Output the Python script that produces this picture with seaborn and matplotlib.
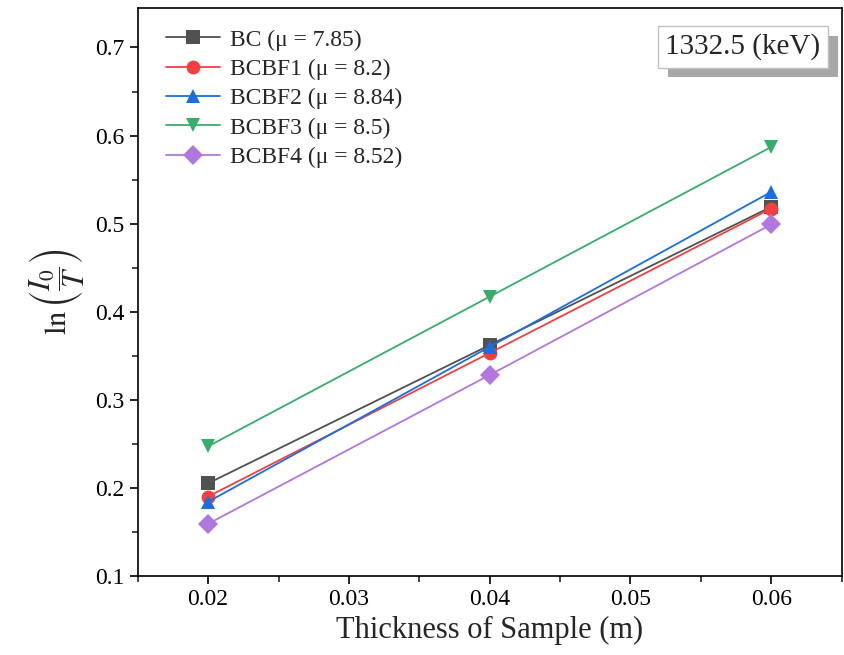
import numpy as np
import pandas as pd
import seaborn as sns
import matplotlib.pyplot as plt
import matplotlib.patheffects as pe
from matplotlib.ticker import MultipleLocator

# thickness of sample (m)
thickness = [0.02, 0.04, 0.06]

# ln(I0/I) values
bc = [0.205, 0.362, 0.519]
bcbf1 = [0.190, 0.353, 0.517]
bcbf2 = [0.184, 0.360, 0.536]
bcbf3 = [0.247, 0.417, 0.587]
bcbf4 = [0.159, 0.328, 0.499]

labels = ["BC (μ = 7.85)", "BCBF1 (μ = 8.2)", "BCBF2 (μ = 8.84)",
          "BCBF3 (μ = 8.5)", "BCBF4 (μ = 8.52)"]
colors = ["#515151", "#F14040", "#1A6FDF", "#37AD6B", "#B177DE"]
markers = ["s", "o", "^", "v", "D"]

df = pd.DataFrame({
    "thickness": thickness * 5,
    "value": bc + bcbf1 + bcbf2 + bcbf3 + bcbf4,
    "sample": np.repeat(labels, len(thickness)),
})

sns.set_style("ticks")
plt.rcParams["font.family"] = ["Liberation Serif", "DejaVu Serif"]
plt.rcParams["mathtext.fontset"] = "stix"

fig = plt.figure(figsize=(8.45, 6.55), dpi=100)
ax = fig.add_axes([0.163, 0.121, 0.833, 0.867])

sns.lineplot(data=df, x="thickness", y="value", hue="sample", style="sample",
             palette=dict(zip(labels, colors)), markers=dict(zip(labels, markers)),
             dashes=False, markersize=10, linewidth=1.3, markeredgewidth=0,
             ax=ax)

ax.set_xlim(0.015, 0.065)
ax.set_ylim(0.1, 0.745)
ax.xaxis.set_major_locator(MultipleLocator(0.01))
ax.xaxis.set_minor_locator(MultipleLocator(0.005))
ax.yaxis.set_major_locator(MultipleLocator(0.1))
ax.yaxis.set_minor_locator(MultipleLocator(0.05))
ax.tick_params(which="major", direction="out", length=6, width=1.2, labelsize=17,
               colors="black")
ax.tick_params(which="minor", direction="out", length=4, width=1.2)
for s in ax.spines.values():
    s.set_linewidth(1.2)
    s.set_color("black")

ax.set_xlabel("Thickness of Sample (m)", fontsize=22, labelpad=4)
ax.set_ylabel(r"$\ln\left(\dfrac{I_0}{T}\right)$", fontsize=22, labelpad=6)

leg = ax.legend(loc="upper left", frameon=False, fontsize=17, handlelength=2.3,
                borderaxespad=0.5, borderpad=0.4, labelspacing=0.33,
                handletextpad=0.4, bbox_to_anchor=(0.01, 1.0))

t = ax.text(0.97, 0.955, "1332.5 (keV)", transform=ax.transAxes, ha="right",
            va="top", fontsize=21,
            bbox=dict(boxstyle="square,pad=0.25", fc="white", ec="#c0c0c0", lw=1))
t.get_bbox_patch().set_path_effects([
    pe.withSimplePatchShadow(offset=(7, -7), shadow_rgbFace="#a8a8a8", alpha=1.0)])

fig.savefig("out.png", dpi=100)
